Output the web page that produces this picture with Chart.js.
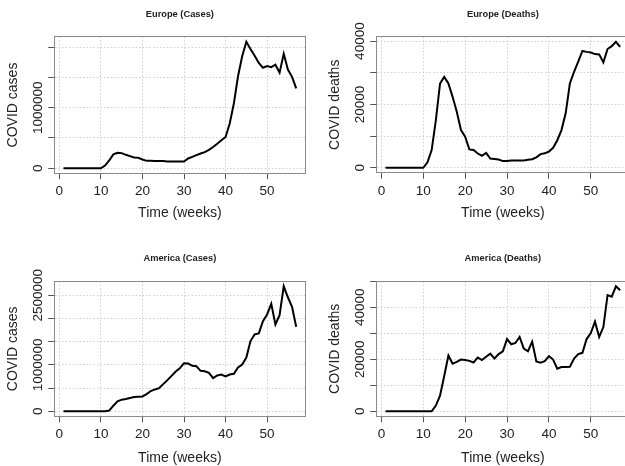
<!DOCTYPE html>
<html><head><meta charset="utf-8">
<script src="https://cdn.jsdelivr.net/npm/chart.js@4/dist/chart.umd.min.js"></script>
<style>
html,body{margin:0;padding:0;background:#fff;width:625px;height:466px;overflow:hidden;position:relative}
canvas{position:absolute;display:block}
</style></head><body>
<canvas id="c1"></canvas><canvas id="c2"></canvas><canvas id="c3"></canvas><canvas id="c4"></canvas>
<script>
// ---- data ----
const weeks = [1,2,3,4,5,6,7,8,9,10,11,12,13,14,15,16,17,18,19,20,21,22,23,24,25,26,27,28,29,30,31,32,33,34,35,36,37,38,39,40,41,42,43,44,45,46,47,48,49,50,51,52,53,54,55,56,57];
const europeCases = [0,0,0,0,0,0,0,0,0,0,44000,128000,228000,255000,250000,222000,200000,178000,172000,144000,122000,122000,120000,120000,118000,112000,111000,111000,111000,112000,161000,189000,217000,244000,267000,305000,350000,405000,461000,517000,739000,1070000,1520000,1850000,2090000,1970000,1860000,1740000,1660000,1690000,1670000,1710000,1580000,1890000,1630000,1510000,1320000];
const europeDeaths = [0,0,0,0,0,0,0,0,0,0,1700,5600,15000,26600,28700,26600,22400,17700,11900,9800,5800,5600,4500,3800,4700,2900,2800,2600,2100,2100,2300,2300,2300,2300,2500,2700,3300,4300,4600,5100,6300,8700,11900,17200,26600,30300,33500,36900,36600,36400,35900,35800,33300,37500,38400,39800,38200];
const americaCases = [0,0,0,0,0,0,0,0,0,0,0,15000,121000,214000,250000,264000,286000,307000,314000,321000,371000,436000,471000,500000,586000,671000,764000,857000,929000,1036000,1029000,979000,971000,871000,864000,829000,714000,771000,793000,750000,793000,807000,943000,1007000,1157000,1514000,1657000,1679000,1943000,2086000,2314000,1871000,2071000,2693000,2457000,2250000,1821000];
const americaDeaths = [0,0,0,0,0,0,0,0,0,0,0,0,2200,6000,13600,21500,18300,19000,19900,19700,19400,18800,20700,19700,21000,22200,20300,22000,23100,27800,25800,26300,28600,24100,23100,26800,19200,18700,19300,21200,19900,16400,17000,17000,17100,20300,22000,22500,27800,30100,34500,28600,32400,44700,44100,48100,46600];

const xTicks = [0,10,20,30,40,50];
const casesEuTicks = [0,500000,1000000,1500000,2000000];
const casesEuLabels = [0,1000000];
const casesAmTicks = [0,500000,1000000,1500000,2000000,2500000];
const casesAmLabels = [0,1000000,2500000];
const deathsEuTicks = [0,10000,20000,30000,40000];
const deathsAmTicks = [0,10000,20000,30000,40000,50000];
const deathsLabels = [0,20000,40000];

// ---- styling ----
const FAMILY = "'Liberation Sans', Arial, Helvetica, sans-serif";
const TICK_SIZE = 13.5, LAB_SIZE = 14, MAIN_SIZE = 9.3;
const TL = 6;
const TXT = '#222222';
const BOX = '#8a8a8a';
const GRID = '#cfcfcf';
const TICKC = '#555555';

const mctx = document.createElement('canvas').getContext('2d');
function measure(t){ mctx.font = TICK_SIZE + 'px ' + FAMILY; return mctx.measureText(t).width; }

function makePanel(id, p, values, yTicks, yLabels, title, yTitle){
  const cv = document.getElementById(id);
  cv.width = p.cw; cv.height = p.ch;
  cv.style.left = p.ox + 'px'; cv.style.top = p.oy + 'px';
  cv.style.width = p.cw + 'px'; cv.style.height = p.ch + 'px';
  const ymin = Math.min(...values), ymax = Math.max(...values), yr = ymax - ymin;
  const xmin = weeks[0], xmax = weeks[weeks.length-1], xr = xmax - xmin;
  const widest = Math.max(...yLabels.map(v => measure(String(v))));
  const yPad = (p.L - p.ytx) - TL - widest/2;
  const tickFont = {family: FAMILY, size: TICK_SIZE};
  const labFont = {family: FAMILY, size: LAB_SIZE};
  new Chart(cv, {
    type: 'line',
    data: { datasets: [{
      data: weeks.map((w,i) => ({x: w, y: values[i]})),
      borderColor: '#000', borderWidth: 2, pointRadius: 0, tension: 0, fill: false
    }]},
    options: {
      responsive: false, animation: false, devicePixelRatio: 1,
      layout: {padding: 0},
      plugins: {legend: {display: false}, tooltip: {enabled: false}, title: {display: false}},
      scales: {
        x: {
          type: 'linear', position: 'bottom',
          min: xmin - 0.04*xr, max: xmax + 0.04*xr,
          afterBuildTicks: s => { s.ticks = xTicks.map(v => ({value: v})); },
          afterFit: s => { s.height = p.oy + p.ch - p.B; },
          ticks: {autoSkip: false, maxRotation: 0, minRotation: 0, font: tickFont, color: TXT,
                  padding: p.xty - p.B - TL - TICK_SIZE*1.2/2},
          grid: {color: GRID, lineWidth: 1, drawTicks: true, tickLength: TL, tickColor: TICKC, tickWidth: 1},
          border: {display: true, color: BOX, width: 1, dash: [1.5, 2]},
          title: {display: true, text: 'Time (weeks)', font: labFont, color: TXT,
                  padding: {top: 0, bottom: p.oy + p.ch - p.xly - LAB_SIZE*1.2/2}}
        },
        y: {
          type: 'linear', position: 'left',
          min: ymin - 0.04*yr, max: ymax + 0.04*yr,
          afterBuildTicks: s => { s.ticks = yTicks.map(v => ({value: v})); },
          afterFit: s => { s.width = p.L - p.ox; },
          ticks: {autoSkip: false, minRotation: 90, maxRotation: 90, crossAlign: 'center',
                  padding: yPad, font: tickFont, color: TXT,
                  callback: v => yLabels.includes(v) ? String(v) : ''},
          grid: {color: GRID, lineWidth: 1, drawTicks: true, tickLength: TL, tickColor: TICKC, tickWidth: 1},
          border: {display: true, color: BOX, width: 1, dash: [1.5, 2]},
          title: {display: true, text: yTitle, font: labFont, color: TXT,
                  padding: {top: p.ylx - p.ox - LAB_SIZE*1.2/2, bottom: 0}}
        },
        x2: {
          type: 'linear', position: 'top', min: 0, max: 1,
          grid: {display: false}, ticks: {display: false},
          border: {display: true, color: BOX, width: 1},
          afterFit: s => { s.height = p.T - p.oy; },
          title: {display: true, text: title, color: TXT,
                  font: {family: FAMILY, size: MAIN_SIZE, weight: 'bold'},
                  padding: {top: p.tty - p.oy - MAIN_SIZE*1.2/2, bottom: 0}}
        },
        y2: {
          type: 'linear', position: 'right', min: 0, max: 1,
          grid: {display: false}, ticks: {display: false},
          border: {display: true, color: BOX, width: 1},
          afterFit: s => { s.width = p.ox + p.cw - p.R; }
        }
      }
    }
  });
}

const P1 = {ox: 0,   oy: 0,   cw: 320, ch: 236, L: 54.2,  R: 305.5, T: 36.7,  B: 173.3, tty: 14.7, xty: 191.7, xly: 213.3, ylx: 13.3,  ytx: 38.3};
const P2 = {ox: 322, oy: 0,   cw: 320, ch: 236, L: 376.2, R: 629.5, T: 36.7,  B: 172.8, tty: 14.7, xty: 191.2, xly: 213.3, ylx: 335.1, ytx: 360.3};
const P3 = {ox: 0,   oy: 236, cw: 320, ch: 240, L: 54.2,  R: 305.5, T: 281.3, B: 416.3, tty: 258,  xty: 434.7, xly: 458,   ylx: 13.3,  ytx: 38.3};
const P4 = {ox: 322, oy: 236, cw: 320, ch: 240, L: 376.2, R: 629.5, T: 281.3, B: 416.3, tty: 258,  xty: 434.7, xly: 458,   ylx: 335.1, ytx: 360.3};

makePanel('c1', P1, europeCases,  casesEuTicks,  casesEuLabels, 'Europe (Cases)',   'COVID cases');
makePanel('c2', P2, europeDeaths, deathsEuTicks, deathsLabels,  'Europe (Deaths)',  'COVID deaths');
makePanel('c3', P3, americaCases, casesAmTicks,  casesAmLabels, 'America (Cases)',  'COVID cases');
makePanel('c4', P4, americaDeaths,deathsAmTicks, deathsLabels,  'America (Deaths)', 'COVID deaths');
</script>
</body></html>
